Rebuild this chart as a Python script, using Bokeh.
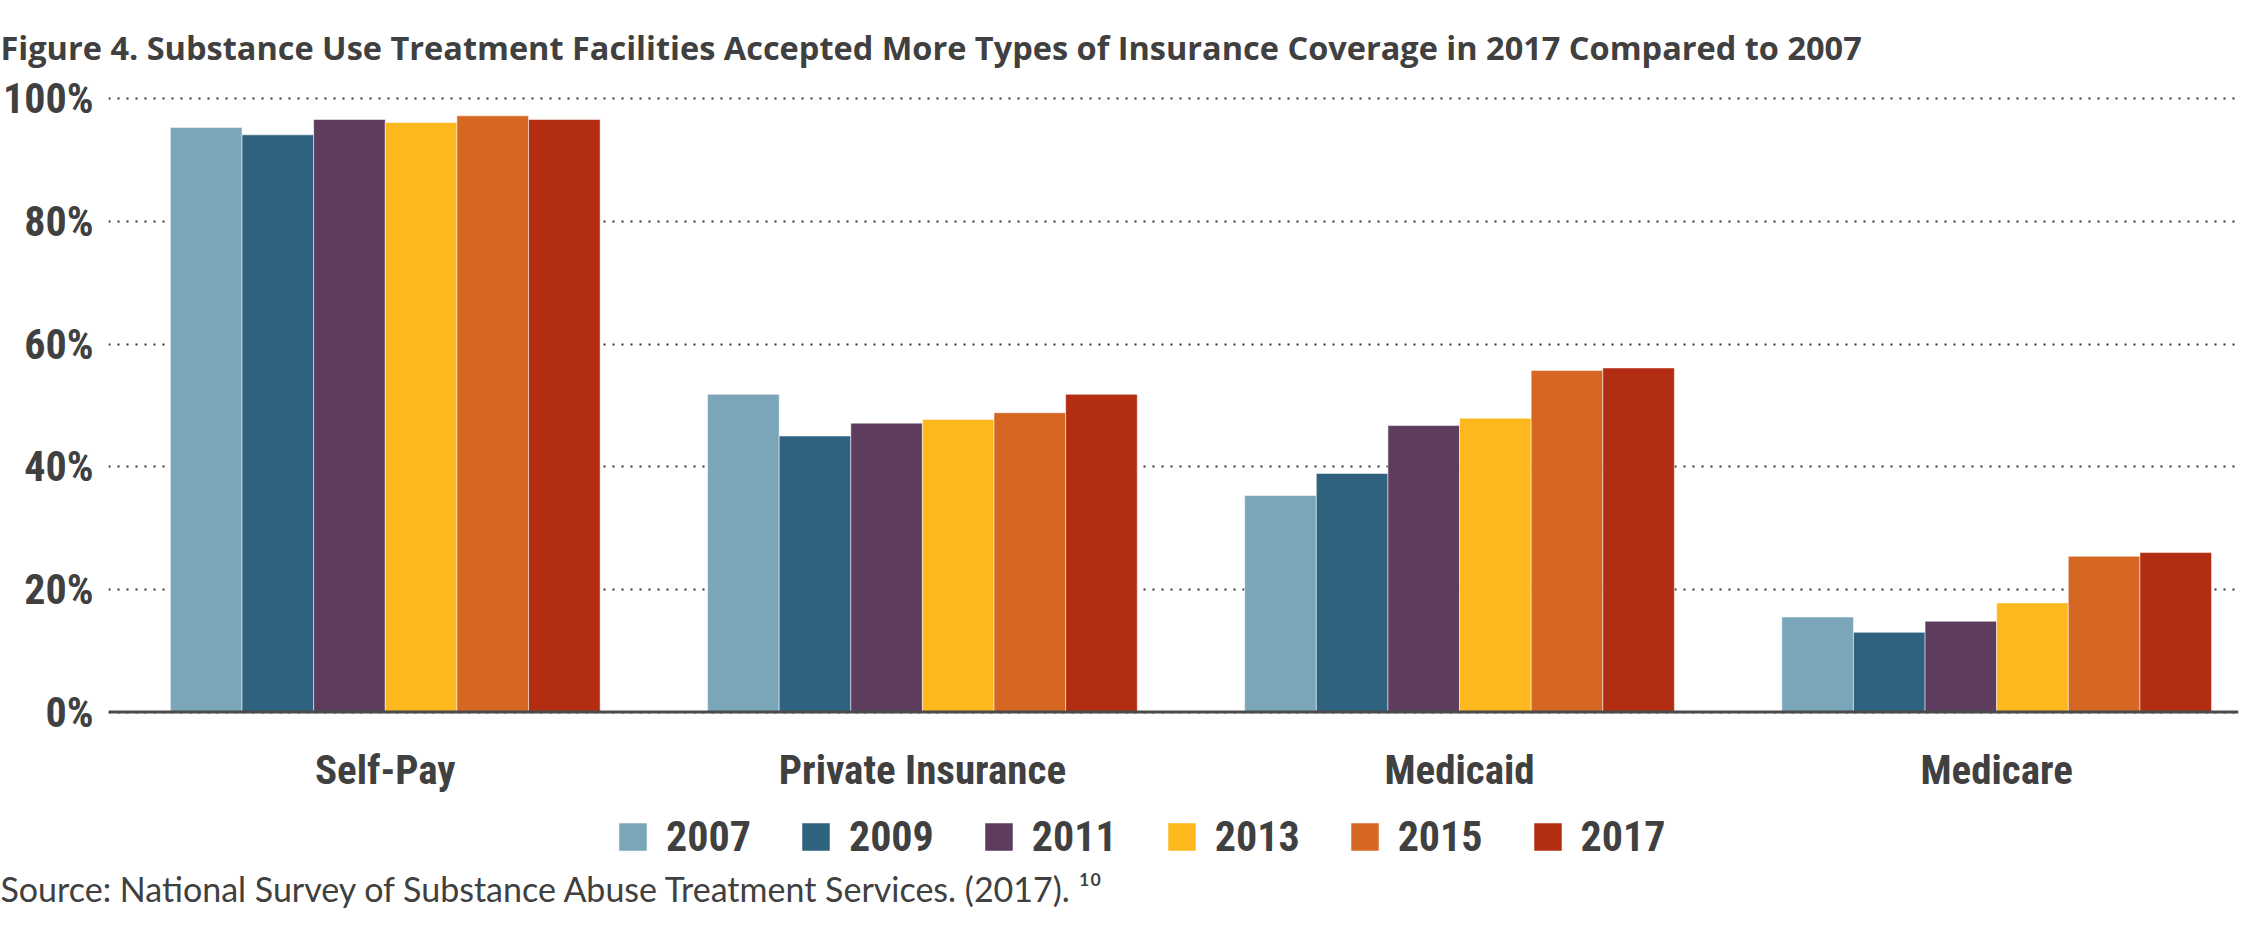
from bokeh.plotting import figure
from bokeh.models import (Range1d, FixedTicker, PrintfTickFormatter, ColumnDataSource,
                          Legend, LegendItem, Title, LabelSet, Span)
from bokeh.core.properties import value
from bokeh.transform import dodge
from bokeh.embed import file_html
from bokeh.resources import INLINE

# ---------------- data ----------------
categories = ["Self-Pay", "Private Insurance", "Medicaid", "Medicare"]
years = ["2007", "2009", "2011", "2013", "2015", "2017"]
values_2007 = [95.3, 51.8, 35.3, 15.5]
values_2009 = [94.1, 45.0, 38.9, 13.0]
values_2011 = [96.6, 47.1, 46.7, 14.8]
values_2013 = [96.1, 47.7, 47.9, 17.8]
values_2015 = [97.2, 48.8, 55.7, 25.4]
values_2017 = [96.6, 51.8, 56.1, 26.0]
series = [values_2007, values_2009, values_2011, values_2013, values_2015, values_2017]
y_ticks = [0, 20, 40, 60, 80, 100]
title_text = ("Figure 4. Substance Use Treatment Facilities Accepted More Types of "
              "Insurance Coverage in 2017 Compared to 2007")
source_text = "Source: National Survey of Substance Abuse Treatment Services. (2017). \u00b9\u2070"

# ---------------- style ----------------
colors = ["#7BA6B9", "#2E627E", "#5E3C5E", "#FCB81D", "#D66722", "#B22D12"]
TEXT = "#404040"
NARROW = "'Roboto Condensed', 'DejaVu Sans Condensed', Lato, sans-serif"

x_pos = list(range(len(categories)))
group_w = 0.8
bar_w = group_w / len(years)

# frame spans down to include the category labels and the legend row
p = figure(width=2240, height=912, output_backend="svg", toolbar_location=None,
           x_axis_location=None,
           x_range=Range1d(-0.5153, 3.4502), y_range=Range1d(-24.52, 101),
           min_border_left=107, min_border_right=2, min_border_top=86,
           min_border_bottom=48)
p.outline_line_color = None
p.background_fill_color = "white"

items = []
for j, (yr, vals) in enumerate(zip(years, series)):
    src = ColumnDataSource(dict(x=x_pos, v=vals))
    off = (j - (len(years) - 1) / 2) * bar_w
    r = p.vbar(x=dodge("x", off), top="v", bottom=0, width=bar_w, source=src,
               fill_color=colors[j], line_color="white", line_width=1, line_alpha=0.5)
    items.append(LegendItem(label=yr, renderers=[r]))

# baseline (0%) rule
p.add_layout(Span(location=0, dimension="width", line_color="#4a4a4a", line_width=3))

# category labels under the baseline
cat_src = ColumnDataSource(dict(x=x_pos, base=[0] * len(categories), name=categories))
p.add_layout(LabelSet(x="x", y="base", text="name", source=cat_src,
                      y_offset=-72, text_align="center", text_baseline="alphabetic",
                      text_font=value(NARROW), text_font_style="bold",
                      text_font_size="41px", text_color=TEXT))

# y axis
p.yaxis.ticker = FixedTicker(ticks=y_ticks)
p.yaxis.formatter = PrintfTickFormatter(format="%d%%")
p.yaxis.axis_line_color = None
p.yaxis.major_tick_line_color = None
p.yaxis.major_tick_out = 0
p.yaxis.major_tick_in = 0
p.yaxis.minor_tick_line_color = None
p.yaxis.minor_tick_out = 0
p.yaxis.major_label_standoff = 15
p.yaxis.major_label_text_font = NARROW
p.yaxis.major_label_text_font_style = "bold"
p.yaxis.major_label_text_font_size = "42px"
p.yaxis.major_label_text_color = TEXT

# grid
p.xgrid.grid_line_color = None
p.ygrid.ticker = FixedTicker(ticks=y_ticks)
p.ygrid.grid_line_color = "#333333"
p.ygrid.grid_line_width = 2
p.ygrid.grid_line_dash = "2 7"

# title
p.title.text = title_text
p.title.text_font = "Open Sans"
p.title.text_font_style = "bold"
p.title.text_font_size = "32.5px"
p.title.text_color = TEXT
p.title.align = "left"
p.title.offset = -108
p.title.standoff = 45

# legend row (inside the frame, below the category labels)
legend = Legend(items=items, orientation="horizontal", location=(507, 1),
                glyph_width=35, glyph_height=35, label_standoff=16, spacing=47,
                padding=0, margin=0, border_line_color=None,
                background_fill_alpha=0,
                label_text_font=NARROW, label_text_font_style="bold",
                label_text_font_size="42px", label_text_color=TEXT)
p.add_layout(legend)

# source
src_title = Title(text=source_text, align="left", offset=-108, standoff=7,
                  text_font="Lato", text_font_style="normal",
                  text_font_size="34px", text_color=TEXT)
p.add_layout(src_title, "below")

open("out.html", "w").write(file_html(p, INLINE))
